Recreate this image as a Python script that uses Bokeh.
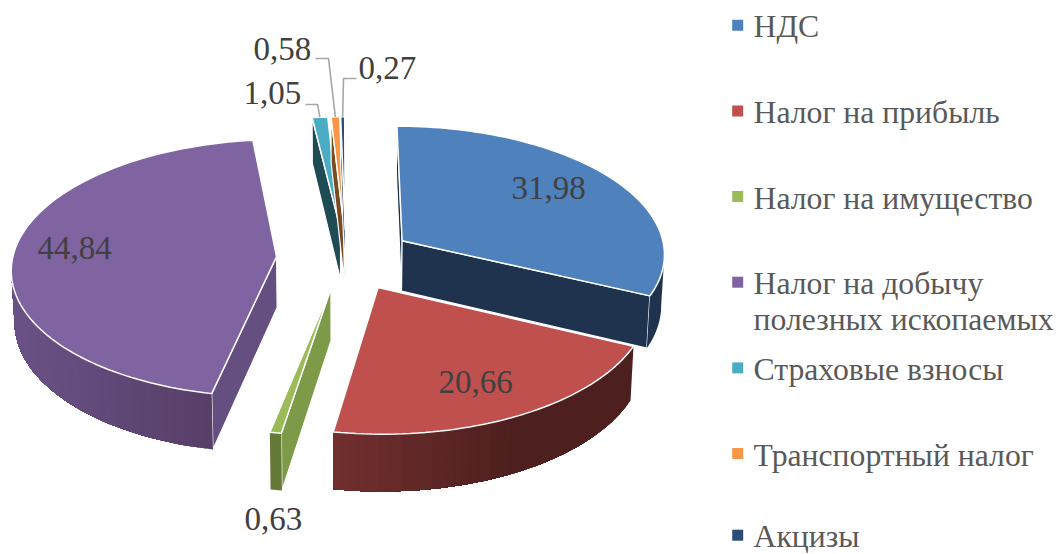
import numpy as np
from bokeh.core.properties import value
from bokeh.embed import file_html
from bokeh.models import Range1d
from bokeh.plotting import figure
from bokeh.resources import INLINE

# Tax revenue shares, percent
categories = ["НДС", "Налог на прибыль", "Налог на имущество",
              "Налог на добычу\nполезных ископаемых", "Страховые взносы",
              "Транспортный налог", "Акцизы"]
shares = [31.98, 20.66, 0.63, 44.84, 1.05, 0.58, 0.27]
share_labels = ["31,98", "20,66", "0,63", "44,84", "1,05", "0,58", "0,27"]

top_colors = ["#4f81bd", "#c0504d", "#9bbb59", "#8064a2", "#4bacc6", "#f79646", "#2c4d75"]
side_colors = ["#1f334e", "#4d1f1e", "#7d9a48", "#654e80", "#1f4b55", "#7a4a20", "#1d3450"]
# Rim shading: colour at the left end, colour at the right end, share of the rim the ramp spans
rim_shades = [("#1f334e", "#1f334e", 1.0), ("#733030", "#4d1f1e", 0.62), ("#667a38", "#667a38", 1.0),
              ("#6a5287", "#573f68", 1.0), ("#1f4b55", "#1f4b55", 1.0),
              ("#7a4a20", "#7a4a20", 1.0), ("#1d3450", "#1d3450", 1.0)]

# Explosion of each slice in the pie plane, in units of the radius
explode_x = [0.244, 0.147, -0.028, -0.235, 0.008, 0.022, 0.026]
explode_y = [-0.14, 0.2215, 0.23, -0.015, -0.23, -0.23, -0.23]

# Perspective camera
CX, CY = 338.0, 258.0
SCALE_X, SCALE_Y = 264.0, 128.0
PERSP = 0.09
DEPTH = 51.0
BOTTOM_SHRINK = 0.99

draw_order = [4, 5, 6, 3, 0, 2, 1]

LABEL_COLOR = "#404040"
LEGEND_COLOR = "#595959"
FONT = value("Liberation Serif")
# The renderer sets alphabetic text this far below the requested line, in em
BASELINE_SHIFT = 0.34


def project(x, y, drop=0.0):
    """Pie-plane point to page pixels; drop > 0 moves it to the bottom face."""
    x, y = np.asarray(x, float), np.asarray(y, float)
    w = 1.0 - PERSP * y
    sx = SCALE_X * x / w
    sy = SCALE_Y * y / w + DEPTH * drop / w
    if drop:
        sx = sx * BOTTOM_SHRINK
    return CX + sx, CY + sy


def cross(ax, ay, bx, by):
    return ax * by - ay * bx


def hex_mix(a, b, t):
    ca = [int(a[i:i + 2], 16) for i in (1, 3, 5)]
    cb = [int(b[i:i + 2], 16) for i in (1, 3, 5)]
    return "#%02x%02x%02x" % tuple(int(round(p + (q - p) * t)) for p, q in zip(ca, cb))


p = figure(width=1058, height=554, output_backend="svg", toolbar_location=None,
           x_range=Range1d(0, 1058), y_range=Range1d(554, 0),
           min_border=0, outline_line_color=None, background_fill_color="white",
           border_fill_color="white")
p.axis.visible = False
p.grid.visible = False

bounds = np.cumsum([0.0] + shares) / sum(shares) * 2 * np.pi
mid_points = {}

for i in draw_order:
    a0, a1 = bounds[i], bounds[i + 1]
    n = max(3, int((a1 - a0) * 40))
    t = np.linspace(a0, a1, n)
    wx = explode_x[i] + np.sin(t)
    wy = explode_y[i] - np.cos(t)
    ax, ay = explode_x[i], explode_y[i]
    top_x, top_y = project(wx, wy)
    bot_x, bot_y = project(wx, wy, 1.0)
    apex_x, apex_y = project(ax, ay)
    apex_bx, apex_by = project(ax, ay, 1.0)
    mid_points[i] = (top_x[n // 2], top_y[n // 2])

    # Straight walls seen from the camera
    for k in (0, n - 1):
        ex, ey = top_x[k] - apex_x, top_y[k] - apex_y
        ox, oy = top_x[n // 2] - apex_x, top_y[n // 2] - apex_y
        if cross(ex, ey, 0, 1) * cross(ex, ey, ox, oy) < 0:
            p.patch([float(apex_x), float(top_x[k]), float(bot_x[k]), float(apex_bx)],
                    [float(apex_y), float(top_y[k]), float(bot_y[k]), float(apex_by)],
                    fill_color=side_colors[i], line_color="white", line_width=1.2)

    # Rim: each strip runs on to the rim's end and the next one paints over it,
    # so the shading ramp has no seams between strips
    visible = []
    for k in range(n - 1):
        sx, sy = top_x[k + 1] - top_x[k], top_y[k + 1] - top_y[k]
        if cross(sx, sy, 0, 1) * cross(sx, sy, apex_x - top_x[k], apex_y - top_y[k]) < 0:
            visible.append(k)
    if visible:
        first, last = visible[0], visible[-1] + 1
        xs_vis = top_x[first:last + 1]
        left, right = xs_vis.min(), xs_vis.max()
        light, dark, ramp = rim_shades[i]
        flat = light == dark
        for k in ([first] if flat else visible):
            f = (top_x[k] - left) / max(right - left, 1e-6)
            col = hex_mix(light, dark, min(f / ramp, 1.0))
            p.patch(top_x[k:last + 1].tolist() + bot_x[k:last + 1][::-1].tolist(),
                    top_y[k:last + 1].tolist() + bot_y[k:last + 1][::-1].tolist(),
                    fill_color=col, line_color=None)

    # Top face
    p.patch([float(apex_x)] + top_x.tolist(), [float(apex_y)] + top_y.tolist(),
            fill_color=top_colors[i], line_color="white", line_width=1.5)

# Leader lines of the small slices, from the label's knee to the slice's outer edge
leader_knees = {4: [(305, 104), (317, 104)], 5: [(315, 58), (328, 58)], 6: [(356, 78), (343, 78)]}
for i, knee in leader_knees.items():
    p.line([k[0] for k in knee] + [float(mid_points[i][0])],
           [k[1] for k in knee] + [float(mid_points[i][1])],
           line_color="#a6a6a6", line_width=1.6)


def put_text(x, y, text, size, color):
    p.text([x], [y - BASELINE_SHIFT * size], text=[text], text_font=FONT, text_font_size=f"{size}px",
           text_color=color, text_baseline="alphabetic", text_align="left")


# Value labels
label_pos = {0: (511, 199), 1: (438, 393), 2: (244, 530), 3: (37, 259),
             4: (243, 104), 5: (253, 60), 6: (358, 79)}
for i, (lx, ly) in label_pos.items():
    put_text(lx, ly, share_labels[i], 33, LABEL_COLOR)

# Legend
legend_y = [37, 122.7, 208.3, 294, 379.7, 465.3, 547]
for i, name in enumerate(categories):
    p.rect([737.2], [legend_y[i] - 12.3], width=11, height=11, fill_color=top_colors[i], line_color=None)
    for j, part in enumerate(name.split("\n")):
        put_text(753, legend_y[i] + 36 * j, part, 31.7, LEGEND_COLOR)

open("out.html", "w").write(file_html(p, INLINE))
